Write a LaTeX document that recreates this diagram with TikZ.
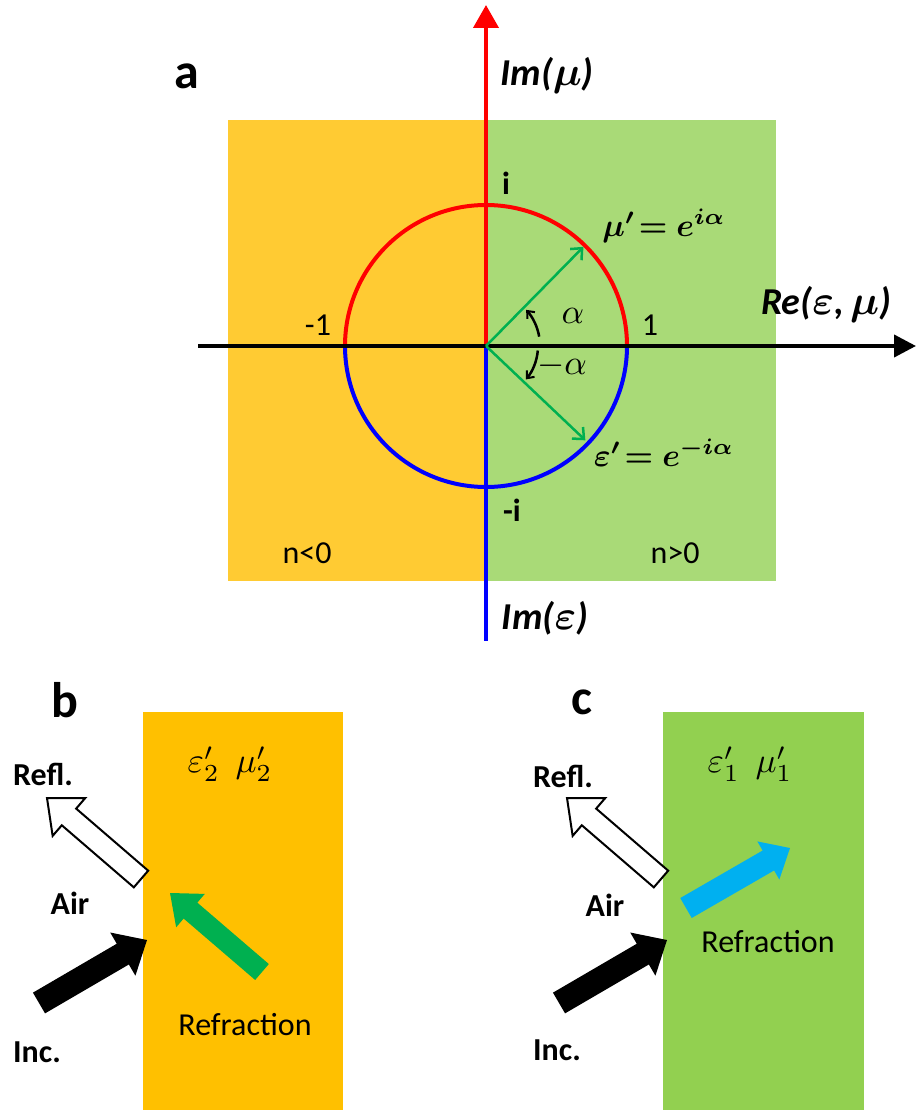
\documentclass[tikz,border=0pt]{standalone}
\usepackage{amsmath}
\usepackage{graphicx}
\usepackage{bm}
\usepackage{fontspec}
\setmainfont{Carlito}
\usetikzlibrary{arrows.meta,calc}
\definecolor{orangeA}{RGB}{255,203,51}
\definecolor{greenA}{RGB}{169,218,119}
\definecolor{orangeB}{RGB}{255,192,0}
\definecolor{greenB}{RGB}{146,208,80}
\definecolor{vecgreen}{RGB}{0,176,80}
\definecolor{arrgreen}{RGB}{0,176,80}
\definecolor{arrblue}{RGB}{0,176,240}
\newcommand\blockarrow[6]{%
  % #1 style, #2 base, #3 tip, #4 shaft half width, #5 head half width, #6 head length
  \path[#1] ($(#2)!#4!90:(#3)$) -- ($($(#3)!#6!(#2)$)!#4!-90:(#2)$)
    -- ($($(#3)!#6!(#2)$)!#5!-90:(#2)$) -- (#3)
    -- ($($(#3)!#6!(#2)$)!#5!90:(#2)$) -- ($($(#3)!#6!(#2)$)!#4!90:(#2)$)
    -- ($(#2)!#4!-90:(#3)$) -- cycle;}
\newcommand\mymath[2][3.5]{\scalebox{#1}{$#2$}}
\newcommand\myaxm[1]{{\normalsize\scalebox{4.1}{$\bm{#1}$}}}
\begin{document}
\begin{tikzpicture}[x=1pt,y=1pt,
  lbl/.style={font=\fontsize{32}{36}\selectfont, inner sep=0pt},
  blbl/.style={font=\fontsize{32}{36}\selectfont\bfseries, inner sep=0pt},
  panel/.style={font=\fontsize{50}{56}\selectfont\bfseries, inner sep=0pt},
  axlbl/.style={font=\fontsize{38}{42}\selectfont\bfseries\itshape, inner sep=0pt},
  mlbl/.style={font=\normalsize, inner sep=0pt},
  axis/.style={line width=4pt},
  vec/.style={vecgreen, line width=2.5pt, -{Straight Barb[length=9pt,width=16pt,line width=2.5pt]}},
  angarr/.style={black, line width=2.5pt, -{Straight Barb[length=6pt,width=10pt,line width=2pt]}},
  hollow/.style={draw=black, fill=white, line width=2pt, line join=miter},
  solid/.style={fill=black}
]
\useasboundingbox (0,0) rectangle (916,-1110);
% ---------- panel a ----------
\fill[orangeA] (228,-120) rectangle (486,-581);
\fill[greenA] (486,-120) rectangle (776,-581);
\coordinate (O) at (486,-346);
\coordinate (imtop) at (486,-5);
\coordinate (imbot) at (486,-641);
\coordinate (reL) at (198,-346);
\coordinate (reR) at (916,-346);
\draw[red, line width=4pt] (627,-346) arc[start angle=0, end angle=180, radius=141];
\draw[blue, line width=4pt] (345,-346) arc[start angle=180, end angle=360, radius=141];
\draw[axis, red, -{Triangle[length=23pt,width=25pt]}] (O) -- (imtop);
\draw[axis, blue] (O) -- (imbot);
\draw[axis, black, -{Triangle[length=22pt,width=22pt]}] (reL) -- (reR);
\coordinate (mutip) at ($(O)+(45.5:139)$);
\coordinate (eptip) at ($(O)+(-43.5:137)$);
\draw[vec] (O) -- (mutip);
\draw[vec] (O) -- (eptip);
\draw[angarr] ($(O)+(10:54)$) arc[start angle=10, end angle=42, radius=54];
\draw[angarr] ($(O)+(-5:52)$) arc[start angle=-5, end angle=-40, radius=52];

\node[panel] (la) at (187,-76) {a};
\node[axlbl] (imu) at (547,-75) {Im(\myaxm{\mu})};
\node[axlbl] (ieps) at (545,-618) {Im(\myaxm{\varepsilon})};
\node[axlbl] (rel) at (826,-304) {Re(\myaxm{\varepsilon},\,\myaxm{\mu})};
\node[blbl] (li) at (506,-183) {i};
\node[blbl] (lmi) at (512,-510) {-i};
\node[lbl] (lm1) at (318,-325) {-1};
\node[lbl] (l1) at (650,-325) {1};
\node[lbl] (nneg) at (307,-553) {n<0};
\node[lbl] (npos) at (675,-553) {n>0};
\node[mlbl] (mueq) at (664,-226) {\mymath[3.2]{\bm{\mu'\!=e^{i\alpha}}}};
\node[mlbl] (epseq) at (664,-453) {\mymath[3.2]{\bm{\varepsilon'\!=e^{-i\alpha}}}};
\node[mlbl] (al) at (573,-316) {\mymath{\alpha}};
\node[mlbl] (mal) at (562,-366) {\mymath{-\alpha}};

% ---------- panel b ----------
\fill[orangeB] (143,-712) rectangle (343,-1110);
\node[panel] (lb) at (65,-700) {b};
\node[mlbl] (epmu2) at (230,-764) {\mymath{\varepsilon_2'\ \ \mu_2'}};
\node[blbl] (refb) at (43,-774) {Refl.};
\node[blbl] (airb) at (70,-903) {Air};
\node[blbl] (incb) at (37,-1052) {Inc.};
\node[lbl] (refrb) at (245,-1025) {Refraction};
\coordinate (bRa) at (141,-879);
\coordinate (bRb) at (47,-798);
\coordinate (bIa) at (39,-1003);
\coordinate (bIb) at (147,-940);
\coordinate (bGa) at (262,-972);
\coordinate (bGb) at (170,-893);
\blockarrow{hollow}{bRa}{bRb}{11pt}{25pt}{29pt}
\blockarrow{solid}{bIa}{bIb}{12pt}{25pt}{28pt}
\blockarrow{fill=arrgreen}{bGa}{bGb}{10.5pt}{22pt}{27pt}

% ---------- panel c ----------
\fill[greenB] (663,-712) rectangle (864,-1110);
\node[panel] (lc) at (582,-702) {c};
\node[mlbl] (epmu1) at (750,-764) {\mymath{\varepsilon_1'\ \ \mu_1'}};
\node[blbl] (refc) at (563,-776) {Refl.};
\node[blbl] (airc) at (605,-905) {Air};
\node[blbl] (incc) at (557,-1050) {Inc.};
\node[lbl] (refrc) at (768,-942) {Refraction};
\coordinate (cRa) at (661,-879);
\coordinate (cRb) at (567,-798);
\coordinate (cIa) at (559,-1003);
\coordinate (cIb) at (667,-940);
\coordinate (cBa) at (686,-908);
\coordinate (cBb) at (790,-848);
\blockarrow{hollow}{cRa}{cRb}{11pt}{25pt}{29pt}
\blockarrow{solid}{cIa}{cIb}{12pt}{25pt}{28pt}
\blockarrow{fill=arrblue}{cBa}{cBb}{11.5pt}{22pt}{25pt}
\end{tikzpicture}
\end{document}
